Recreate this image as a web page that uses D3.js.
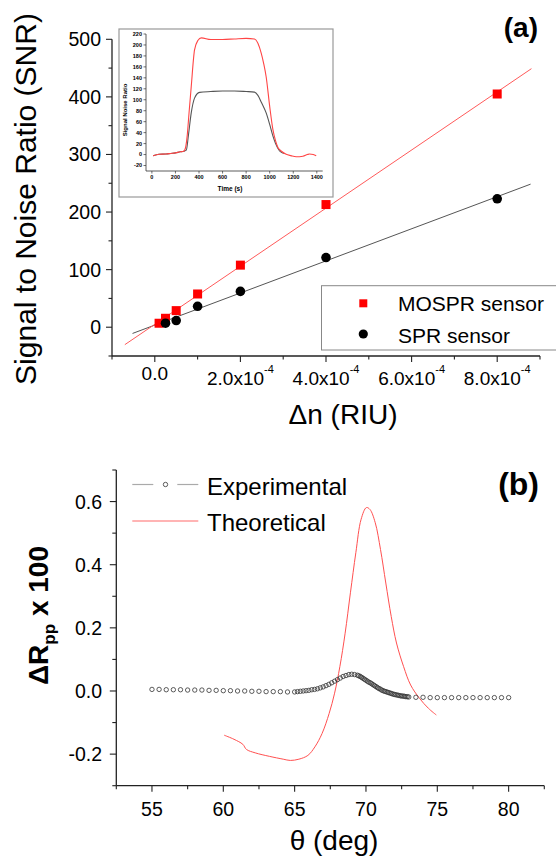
<!DOCTYPE html>
<html><head><meta charset="utf-8">
<script src="https://cdn.jsdelivr.net/npm/d3@7"></script>
<style>body{margin:0;background:#fff}svg{display:block}text{font-family:"Liberation Sans",Arial,sans-serif;fill:#000}</style>
</head><body><svg id="c" width="556" height="861"></svg>
<script>
// ---------- Panel (a) data ----------
const dnMOSPR = [1e-5, 2.5e-5, 5e-5, 1e-4, 2e-4, 4e-4, 8e-4];
const snrMOSPR = [6.9, 15.5, 28.8, 57.7, 107.8, 213, 405];
const dnSPR = [2.5e-5, 5e-5, 1e-4, 2e-4, 4e-4, 8e-4];
const snrSPR = [7, 11.6, 36.3, 62.2, 121, 223];
const fitRangeMOSPR = [-0.7e-4, 8.8e-4];
const fitRangeSPR = [-0.52e-4, 8.78e-4];
const xTicksA = [0, 2e-4, 4e-4, 6e-4, 8e-4];
const xTickLabelsA = ["0.0", "2.0x10", "4.0x10", "6.0x10", "8.0x10"];
const yTicksA = [0, 100, 200, 300, 400, 500];
const legendA = ["MOSPR sensor", "SPR sensor"];
// inset
const timeRed = [10, 60, 120, 160, 200, 240, 270, 285, 300, 315, 334, 362, 390, 420, 500, 600, 700, 800, 870, 900, 928, 950, 970, 1000, 1027, 1050, 1070, 1100, 1140, 1180, 1225, 1282, 1320, 1338, 1370, 1395];
const snrRed =  [-2, 0.5, 1, 2, 3, 5, 6, 12, 35, 75, 124, 191, 208, 213, 210, 210, 211, 212, 211, 203, 185, 165, 142, 88, 46, 25, 13, 6, 0.5, -2, -4, -3, 0, 1, 0, -2];
const timeBlack = [10, 60, 120, 160, 200, 240, 270, 292, 310, 334, 362, 405, 500, 600, 700, 800, 870, 900, 930, 970, 1000, 1027, 1050, 1084, 1120];
const snrBlack =  [-2, 0.5, 1, 2, 3, 5, 6, 8, 35, 76, 103, 113.5, 115, 116, 116, 115, 114, 108, 95, 76, 55, 34, 20, 6.5, 2];
const insetXTicks = [0, 200, 400, 600, 800, 1000, 1200, 1400];
const insetYTicks = [-20, 0, 20, 40, 60, 80, 100, 120, 140, 160, 180, 200, 220];

// ---------- Panel (b) data ----------
const thetaExp = [55,55.5,56,56.5,57,57.5,58,58.5,59,59.5,60,60.5,61,61.5,62,62.5,63,63.5,64,64.5,65,
  65.2,65.4,65.6,65.8,66,66.2,66.4,66.6,66.8,67,67.2,67.4,67.6,67.8,68,68.2,68.4,68.6,68.8,69,69.2,69.4,
  69.5,69.6,69.7,69.8,69.9,70,70.1,70.2,70.3,70.4,70.5,70.6,70.7,70.8,70.9,71,71.1,71.2,71.3,71.4,71.5,71.6,71.7,71.8,71.9,72,72.1,72.2,72.3,72.4,72.5,72.6,72.7,72.8,72.9,73,
  73.5,74,74.5,75,75.5,76,76.5,77,77.5,78,78.5,79,79.5,80];
const valExp = [0.005,0.005,0.004,0.004,0.004,0.003,0.003,0.003,0.002,0.002,0.001,0.001,0.000,0.000,-0.001,-0.001,-0.002,-0.002,-0.002,-0.003,-0.003,
  -0.002,-0.001,0.000,0.001,0.002,0.004,0.005,0.007,0.010,0.013,0.017,0.021,0.026,0.031,0.036,0.041,0.046,0.049,0.052,0.053,0.052,0.050,
  0.048,0.046,0.043,0.040,0.037,0.034,0.031,0.028,0.026,0.023,0.020,0.017,0.014,0.011,0.008,0.006,0.003,0.001,-0.001,-0.002,-0.004,-0.005,-0.007,-0.008,-0.010,-0.011,-0.012,-0.013,-0.014,-0.015,-0.016,-0.016,-0.017,-0.018,-0.018,-0.019,
  -0.020,-0.020,-0.021,-0.021,-0.021,-0.021,-0.021,-0.021,-0.021,-0.021,-0.021,-0.021,-0.021,-0.021];
const thetaTh = [60.06,60.75,61.37,61.62,62.24,63.23,64.2,64.7,65.3,65.93,66.42,66.92,67.42,67.8,68.17,68.54,68.91,69.29,69.66,70.03,70.28,70.65,71.02,71.39,71.77,72.14,72.64,73.13,73.75,74.38,74.93];
const valTh = [-0.140,-0.153,-0.169,-0.185,-0.196,-0.207,-0.216,-0.220,-0.216,-0.204,-0.177,-0.135,-0.071,-0.007,0.077,0.183,0.311,0.438,0.544,0.581,0.575,0.533,0.448,0.342,0.236,0.152,0.077,0.019,-0.023,-0.055,-0.076];
const xTicksB = [55, 60, 65, 70, 75, 80];
const yTicksB = [-0.2, 0.0, 0.2, 0.4, 0.6];
const legendB = ["Experimental", "Theoretical"];

const svg = d3.select("#c");
const AX = "#222";

// ===== Panel (a) =====
const xA = d3.scaleLinear().domain([-1e-4, 9e-4]).range([112, 540]);
const yA = d3.scaleLinear().domain([-50, 500]).range([356, 39.3]);
const gA = svg.append("g");

function drawAxis(g, scale, orient, pos, major, minor, majLen, minLen) {
  const [a, b] = scale.range();
  if (orient === "bottom") {
    g.append("line").attr("x1", a).attr("x2", b).attr("y1", pos).attr("y2", pos).attr("stroke", AX).attr("stroke-width", 1.3);
    minor.forEach(v => g.append("line").attr("x1", scale(v)).attr("x2", scale(v)).attr("y1", pos).attr("y2", pos + minLen).attr("stroke", AX).attr("stroke-width", 1.1));
    major.forEach(v => g.append("line").attr("x1", scale(v)).attr("x2", scale(v)).attr("y1", pos).attr("y2", pos + majLen).attr("stroke", AX).attr("stroke-width", 1.1));
  } else {
    g.append("line").attr("y1", a).attr("y2", b).attr("x1", pos).attr("x2", pos).attr("stroke", AX).attr("stroke-width", 1.3);
    minor.forEach(v => g.append("line").attr("y1", scale(v)).attr("y2", scale(v)).attr("x1", pos).attr("x2", pos - minLen).attr("stroke", AX).attr("stroke-width", 1.1));
    major.forEach(v => g.append("line").attr("y1", scale(v)).attr("y2", scale(v)).attr("x1", pos).attr("x2", pos - majLen).attr("stroke", AX).attr("stroke-width", 1.1));
  }
}
drawAxis(gA, xA, "bottom", yA(-50), xTicksA, d3.range(-1e-4, 9.5e-4, 2e-4), 6, 3.5);
drawAxis(gA, yA, "left", xA(-1e-4), yTicksA, d3.range(-50, 500, 100), 6, 3.5);

xTicksA.forEach((v, i) => {
  const t = gA.append("text").attr("x", xA(v)).attr("y", i === 0 ? 380 : 385).attr("text-anchor", "middle").attr("font-size", 19);
  t.append("tspan").text(xTickLabelsA[i]);
  if (i > 0) t.append("tspan").attr("font-size", 11).attr("dy", -12).text("-4");
});
yTicksA.forEach(v => gA.append("text").attr("x", 101).attr("y", yA(v)).attr("dy", "0.36em").attr("text-anchor", "end").attr("font-size", 19.5).text(v));

gA.append("text").attr("transform", "translate(35.5,199) rotate(-90)").attr("text-anchor", "middle").attr("font-size", 30).text("Signal to Noise Ratio (SNR)");
gA.append("text").attr("x", 343).attr("y", 424).attr("text-anchor", "middle").attr("font-size", 28).text("\u0394n (RIU)");
gA.append("text").attr("x", 538).attr("y", 37).attr("text-anchor", "end").attr("font-size", 28).attr("font-weight", "bold").text("(a)");

function fit(xs, ys) {
  const mx = d3.mean(xs), my = d3.mean(ys);
  const s = d3.sum(xs.map((x, i) => (x - mx) * (ys[i] - my))) / d3.sum(xs.map(x => (x - mx) ** 2));
  return [s, my - s * mx];
}
const [sR, iR] = fit(dnMOSPR, snrMOSPR);
const [sB, iB] = fit(dnSPR, snrSPR);
gA.append("line").attr("x1", xA(fitRangeSPR[0])).attr("y1", yA(sB * fitRangeSPR[0] + iB)).attr("x2", xA(fitRangeSPR[1])).attr("y2", yA(sB * fitRangeSPR[1] + iB)).attr("stroke", "#555").attr("stroke-width", 1);
gA.append("line").attr("x1", xA(fitRangeMOSPR[0])).attr("y1", yA(sR * fitRangeMOSPR[0] + iR)).attr("x2", xA(fitRangeMOSPR[1])).attr("y2", yA(sR * fitRangeMOSPR[1] + iR)).attr("stroke", "#ff5a5a").attr("stroke-width", 1);

gA.selectAll(".sq").data(dnMOSPR).join("rect").attr("x", (d) => xA(d) - 4.5).attr("y", (d, i) => yA(snrMOSPR[i]) - 4.5).attr("width", 9).attr("height", 9).attr("fill", "#f00");
gA.selectAll(".ci").data(dnSPR).join("circle").attr("cx", d => xA(d)).attr("cy", (d, i) => yA(snrSPR[i])).attr("r", 4.8).attr("fill", "#000");

gA.append("rect").attr("x", 321.5).attr("y", 285.7).attr("width", 240).attr("height", 64.3).attr("fill", "#fff").attr("stroke", "#888").attr("stroke-width", 1);
gA.append("rect").attr("x", 359.3).attr("y", 299.3).attr("width", 8).attr("height", 8).attr("fill", "#f00");
gA.append("circle").attr("cx", 363.3).attr("cy", 334).attr("r", 4.6).attr("fill", "#000");
gA.append("text").attr("x", 398).attr("y", 311).attr("font-size", 21).text(legendA[0]);
gA.append("text").attr("x", 398).attr("y", 342.7).attr("font-size", 21).text(legendA[1]);

// inset
const gI = svg.append("g");
gI.append("rect").attr("x", 119).attr("y", 29).attr("width", 214).attr("height", 168).attr("fill", "#fff").attr("stroke", "#999").attr("stroke-width", 1.2);
const xI = d3.scaleLinear().domain([-50, 1450]).range([146, 322.7]);
const yI = d3.scaleLinear().domain([-30, 220]).range([171, 34]);
gI.append("line").attr("x1", xI(-50)).attr("x2", xI(1450)).attr("y1", yI(-30)).attr("y2", yI(-30)).attr("stroke", "#333").attr("stroke-width", 0.8);
gI.append("line").attr("x1", xI(-50)).attr("x2", xI(-50)).attr("y1", yI(-30)).attr("y2", yI(220)).attr("stroke", "#333").attr("stroke-width", 0.8);
insetXTicks.forEach(v => {
  gI.append("line").attr("x1", xI(v)).attr("x2", xI(v)).attr("y1", yI(-30)).attr("y2", yI(-30) + 2.5).attr("stroke", "#333").attr("stroke-width", 0.7);
  gI.append("text").attr("x", xI(v)).attr("y", 179).attr("text-anchor", "middle").attr("font-size", 5.5).attr("font-weight", "bold").attr("fill", "#333").text(v);
});
insetYTicks.forEach(v => {
  gI.append("line").attr("x1", xI(-50)).attr("x2", xI(-50) - 2.5).attr("y1", yI(v)).attr("y2", yI(v)).attr("stroke", "#333").attr("stroke-width", 0.7);
  gI.append("text").attr("x", 142).attr("y", yI(v)).attr("dy", "0.35em").attr("text-anchor", "end").attr("font-size", 5.5).attr("font-weight", "bold").attr("fill", "#333").text(v);
});
gI.append("text").attr("x", 230).attr("y", 191).attr("text-anchor", "middle").attr("font-size", 6.5).attr("font-weight", "bold").attr("fill", "#333").text("Time (s)");
gI.append("text").attr("transform", "translate(127,110) rotate(-90)").attr("text-anchor", "middle").attr("font-size", 6).attr("font-weight", "bold").attr("fill", "#333").text("Signal Noise Ratio");
const lineI = d3.line().x(d => xI(d[0])).y(d => yI(d[1])).curve(d3.curveMonotoneX);
gI.append("path").attr("d", lineI(timeBlack.map((t, i) => [t, snrBlack[i]]))).attr("fill", "none").attr("stroke", "#555").attr("stroke-width", 1.1);
gI.append("path").attr("d", lineI(timeRed.map((t, i) => [t, snrRed[i]]))).attr("fill", "none").attr("stroke", "#ff4545").attr("stroke-width", 1.1);

// ===== Panel (b) =====
const xB = d3.scaleLinear().domain([52.5, 82.5]).range([116.3, 544.3]);
const yB = d3.scaleLinear().domain([-0.3, 0.7]).range([785.7, 470]);
const gB = svg.append("g");
drawAxis(gB, xB, "bottom", yB(-0.3), xTicksB, d3.range(52.5, 83, 5), 6, 3.5);
drawAxis(gB, yB, "left", xB(52.5), yTicksB, [-0.3, -0.1, 0.1, 0.3, 0.5, 0.7], 6.5, 4);
xTicksB.forEach(v => gB.append("text").attr("x", xB(v)).attr("y", 815.7).attr("text-anchor", "middle").attr("font-size", 19.5).text(v));
yTicksB.forEach(v => gB.append("text").attr("x", 102).attr("y", yB(v)).attr("dy", "0.36em").attr("text-anchor", "end").attr("font-size", 19.5).text(v.toFixed(1)));

const yt = gB.append("text").attr("transform", "translate(47.6,615.5) rotate(-90)").attr("text-anchor", "middle").attr("font-size", 28).attr("font-weight", "bold");
yt.append("tspan").text("\u0394R");
yt.append("tspan").attr("font-size", 17).attr("dy", 7).text("pp");
yt.append("tspan").attr("dy", -7).text(" x 100");
gB.append("text").attr("x", 334).attr("y", 850).attr("text-anchor", "middle").attr("font-size", 28).text("\u03b8 (deg)");
gB.append("text").attr("x", 539).attr("y", 495).attr("text-anchor", "end").attr("font-size", 32).attr("font-weight", "bold").text("(b)");

const lineB = d3.line().x(d => xB(d[0])).y(d => yB(d[1])).curve(d3.curveCatmullRom);
gB.append("path").attr("d", lineB(thetaTh.map((t, i) => [t, valTh[i]]))).attr("fill", "none").attr("stroke", "#ff5050").attr("stroke-width", 1);
gB.selectAll(".ex").data(thetaExp).join("circle").attr("cx", d => xB(d)).attr("cy", (d, i) => yB(valExp[i])).attr("r", 2.2).attr("fill", "none").attr("stroke", "#333").attr("stroke-width", 0.8);

gB.append("line").attr("x1", 132.3).attr("x2", 153.3).attr("y1", 484.5).attr("y2", 484.5).attr("stroke", "#aaa").attr("stroke-width", 1.2);
gB.append("line").attr("x1", 177.3).attr("x2", 198.3).attr("y1", 484.5).attr("y2", 484.5).attr("stroke", "#aaa").attr("stroke-width", 1.2);
gB.append("circle").attr("cx", 165.5).attr("cy", 484.5).attr("r", 2.2).attr("fill", "none").attr("stroke", "#333").attr("stroke-width", 0.8);
gB.append("line").attr("x1", 132.3).attr("x2", 198.3).attr("y1", 521).attr("y2", 521).attr("stroke", "#ff6a6a").attr("stroke-width", 1.2);
gB.append("text").attr("x", 207).attr("y", 495).attr("font-size", 24).text(legendB[0]);
gB.append("text").attr("x", 207).attr("y", 530.5).attr("font-size", 24).text(legendB[1]);
</script></body></html>
